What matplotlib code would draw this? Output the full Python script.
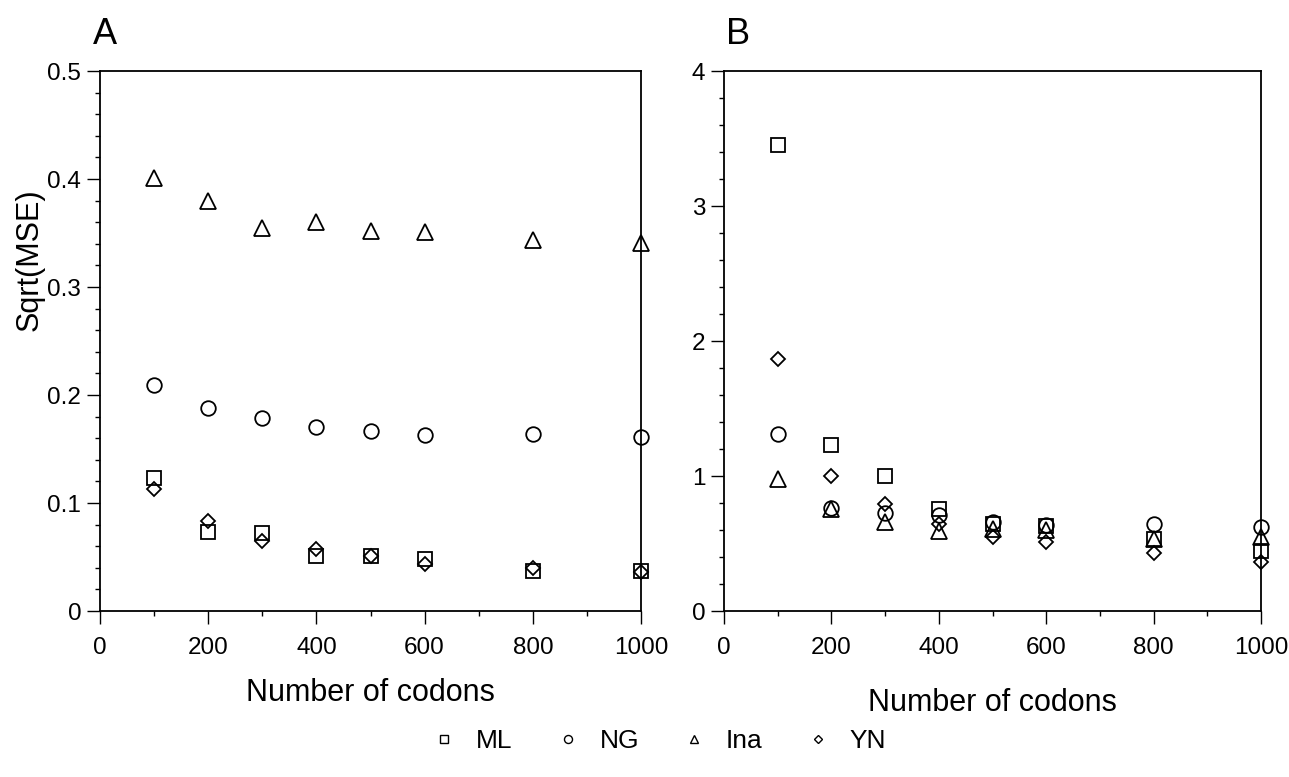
import numpy as np
import matplotlib
matplotlib.use("Agg")
import matplotlib.pyplot as plt
from matplotlib.ticker import MultipleLocator
from matplotlib.lines import Line2D

plt.rcParams['font.family'] = ['Liberation Sans', 'DejaVu Sans']

# number of codons
codons = [100, 200, 300, 400, 500, 600, 800, 1000]

# panel A
a_ml  = [0.123, 0.073, 0.072, 0.051, 0.051, 0.048, 0.037, 0.037]
a_ng  = [0.209, 0.188, 0.179, 0.170, 0.167, 0.163, 0.164, 0.161]
a_ina = [0.401, 0.380, 0.355, 0.360, 0.352, 0.351, 0.344, 0.341]
a_yn  = [0.113, 0.083, 0.065, 0.057, 0.051, 0.044, 0.040, 0.036]

# panel B
b_ml  = [3.45, 1.23, 1.00, 0.755, 0.645, 0.63, 0.53, 0.445]
b_ng  = [1.31, 0.765, 0.725, 0.71, 0.66, 0.64, 0.645, 0.625]
b_ina = [0.98, 0.755, 0.66, 0.59, 0.61, 0.60, 0.53, 0.545]
b_yn  = [1.87, 1.00, 0.79, 0.645, 0.55, 0.51, 0.43, 0.36]

labels = ['ML', 'NG', 'Ina', 'YN']
markers = ['s', 'o', '^', 'D']
msizes = [10.5, 10.5, 11.5, 7.6]

fig = plt.figure(figsize=(12.89, 7.77), dpi=100)
axA = fig.add_axes([0.0776, 0.2136, 0.4197, 0.695])
axB = fig.add_axes([0.5617, 0.2136, 0.4166, 0.695])


def draw(ax, series, ymax, ymajor, yminor, fmt):
    for vals, m, ms in zip(series, markers, msizes):
        ax.plot(codons, vals, linestyle='none', marker=m, ms=ms, mfc='none',
                mec='black', mew=1.3, clip_on=False, zorder=3)
    ax.set_xlim(0, 1000)
    ax.set_ylim(0, ymax)
    ax.xaxis.set_major_locator(MultipleLocator(200))
    ax.xaxis.set_minor_locator(MultipleLocator(100))
    ax.yaxis.set_major_locator(MultipleLocator(ymajor))
    ax.yaxis.set_minor_locator(MultipleLocator(yminor))
    ax.yaxis.set_major_formatter(fmt)
    ax.tick_params(which='major', direction='out', length=9.5, width=1,
                   labelsize=17.5, pad=4)
    ax.tick_params(axis='x', which='major', pad=9)
    ax.tick_params(which='minor', direction='out', length=3.5, width=1)
    for s in ax.spines.values():
        s.set_linewidth(1.3)
    ax.set_xlabel('Number of codons', fontsize=22, labelpad=14)


draw(axA, [a_ml, a_ng, a_ina, a_yn], 0.5, 0.1, 0.02,
     lambda v, p: '0' if v == 0 else f'{v:.1f}')
draw(axB, [b_ml, b_ng, b_ina, b_yn], 4, 1, 0.2,
     lambda v, p: f'{v:.0f}')
axB.xaxis.labelpad = 21
axA.set_ylabel('Sqrt(MSE)', fontsize=22)
axA.yaxis.set_label_coords(-0.103, 0.65)

fig.text(0.072, 0.955, 'A', fontsize=26, va='center')
fig.text(0.563, 0.955, 'B', fontsize=26, va='center')

handles = [Line2D([], [], linestyle='none', marker=m, ms=ms * 0.55, mfc='none',
                  mec='black', mew=1) for m, ms in zip(markers, msizes)]
fig.legend(handles, labels, loc='center', bbox_to_anchor=(0.511, 0.046),
           ncol=4, frameon=False, fontsize=19, handlelength=1,
           handletextpad=0.7, columnspacing=1.6)

fig.savefig('out.png', dpi=100)
